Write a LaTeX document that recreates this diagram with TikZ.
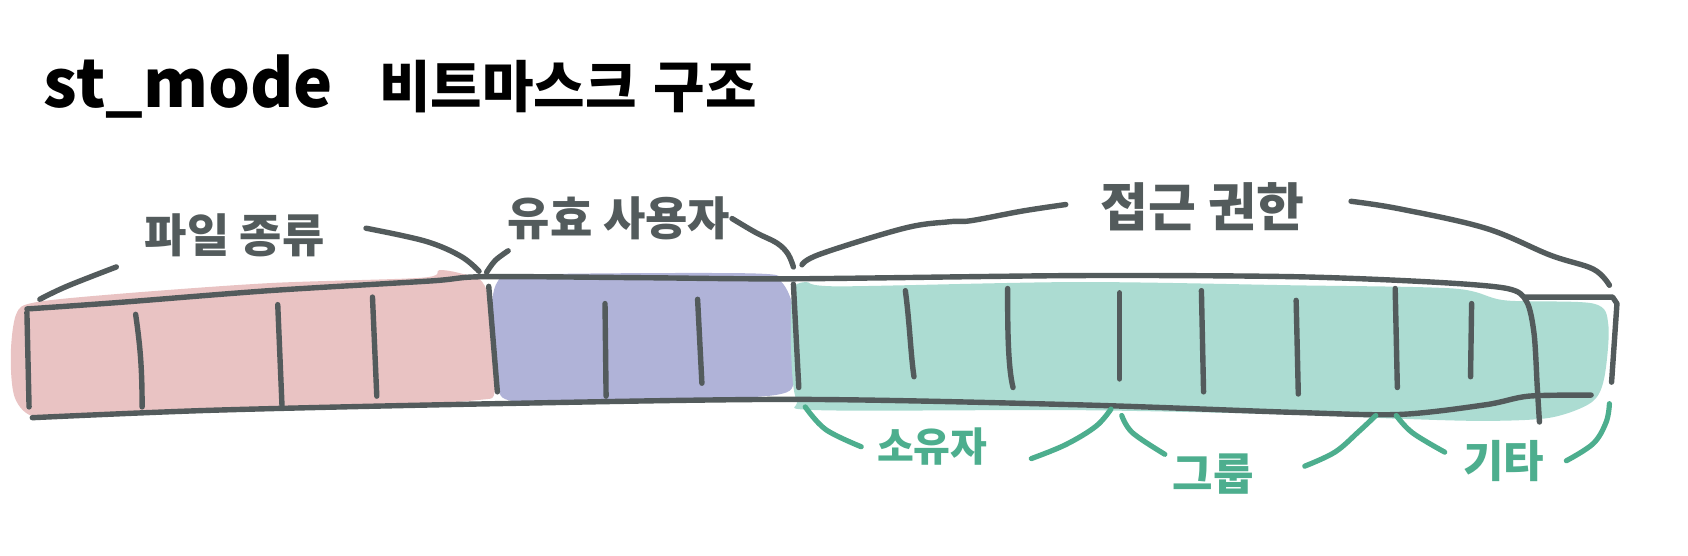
\documentclass[tikz,border=0pt]{standalone}
\usepackage{fontspec}
\newfontfamily\kr{Noto Sans CJK KR}
\definecolor{inkc}{HTML}{535B5C}
\definecolor{pinkf}{HTML}{E9C3C3}
\definecolor{bluef}{HTML}{B0B3D8}
\definecolor{tealf}{HTML}{ACDCD2}
\definecolor{tealt}{HTML}{4DAE8E}
\tikzset{
  ink/.style={draw=inkc, line width=2.7pt, line cap=round, line join=round},
  tink/.style={draw=tealt, line width=2.6pt, line cap=round, line join=round},
  lbl/.style={font=\kr\bfseries\fontsize{23}{23}\selectfont, text=inkc, inner sep=0pt},
  tlbl/.style={font=\kr\bfseries\fontsize{20}{20}\selectfont, text=tealt, inner sep=0pt},
  ttl/.style={font=\kr\bfseries\fontsize{28}{28}\selectfont, text=black, inner sep=0pt, anchor=base},
}
\begin{document}
\begin{tikzpicture}[x=0.5383pt,y=-0.5383pt]
\useasboundingbox (0,0) rectangle (1568,516);
\fill[white] (0,0) rectangle (1568,516);
% fills
\fill[pinkf] plot[smooth cycle, tension=0.5] coordinates {(15,292) (32,281) (110,273) (250,263) (392,258) (408,251) (428,254) (448,262) (462,300) (460,362) (440,372) (300,380) (100,386) (35,388) (14,370) (10,330)};
\fill[bluef] plot[smooth cycle, tension=0.5] coordinates {(462,262) (490,255) (700,254) (726,262) (738,292) (738,350) (720,367) (600,372) (480,373) (462,356) (456,300)};
\fill[tealf] plot[smooth cycle, tension=0.5] coordinates {(736,272) (748,262) (780,266) (1000,262) (1200,265) (1350,268) (1398,279) (1480,282) (1494,302) (1490,352) (1478,374) (1440,388) (1380,391) (1300,389) (1200,385) (1000,381) (760,381) (740,372) (735,330)};
% title
\node[ttl, font=\kr\bfseries\fontsize{33}{33}\selectfont] (t1) at (175,100) {st\_mode};
\node[ttl] (t2) at (472,100) {비트마스크};
\node[ttl] (t3) at (655,100) {구조};
% bar outline
\draw[ink] plot[smooth, tension=0.5] coordinates {(25,287) (110,281) (250,270) (400,261) (450,257) (600,258) (737,259) (1000,256) (1200,257) (1330,262) (1400,268) (1418,280) (1425,310) (1428,360) (1430,392)};
\draw[ink] (1416,276) -- (1498,276) -- (1502,282) -- (1497,355);
\draw[ink] plot[smooth, tension=0.5] coordinates {(30,388) (200,381) (460,375) (740,371) (1000,376) (1200,383) (1300,385) (1380,376) (1420,368) (1478,367)};
% dividers
\draw[ink] (25,290) -- (27,378);
\draw[ink] (126,292) .. controls (130,320) and (132,340) .. (132,378);
\draw[ink] (258,283) -- (262,378);
\draw[ink] (346,276) -- (350,368);
\draw[ink] (454,266) -- (462,364);
\draw[ink] (562,282) -- (563,368);
\draw[ink] (648,278) -- (652,356);
\draw[ink] (737,264) -- (742,360);
\draw[ink] (841,270) .. controls (845,300) and (846,330) .. (849,350);
\draw[ink] (936,268) .. controls (936,300) and (936,340) .. (941,360);
\draw[ink] (1040,272) -- (1040,352);
\draw[ink] (1116,270) -- (1118,364);
\draw[ink] (1204,279) -- (1206,366);
\draw[ink] (1296,268) -- (1298,360);
\draw[ink] (1367,282) -- (1366,350);
% top labels and braces
\node[lbl] (ft) at (218,219) {파일 종류};
\node[lbl] (eu) at (575,203) {유효 사용자};
\node[lbl, font=\kr\bfseries\fontsize{26}{26}\selectfont] (ap) at (1117,192) {접근 권한};
\draw[ink] plot[smooth, tension=0.6] coordinates {(37,278) (62,266) (108,248)};
\draw[ink] plot[smooth, tension=0.6] coordinates {(340,212) (395,224) (428,238) (445,252)};
\draw[ink] plot[smooth, tension=0.6] coordinates {(452,253) (460,242) (472,233)};
\draw[ink] plot[smooth, tension=0.6] coordinates {(680,203) (702,216) (722,226) (732,236) (737,248)};
\draw[ink] plot[smooth, tension=0.6] coordinates {(745,246) (762,236) (840,212) (882,206) (902,205) (950,196) (990,190)};
\draw[ink] plot[smooth, tension=0.6] coordinates {(1255,187) (1300,194) (1380,212) (1440,237) (1480,250) (1495,265)};
% bottom labels and braces
\node[tlbl] (ow) at (866,415) {소유자};
\node[tlbl, font=\kr\bfseries\fontsize{22}{22}\selectfont] (gr) at (1127,440) {그룹};
\node[tlbl, font=\kr\bfseries\fontsize{22}{22}\selectfont] (ot) at (1397,428) {기타};
\draw[tink] plot[smooth, tension=0.6] coordinates {(748,378) (767,399) (800,415)};
\draw[tink] plot[smooth, tension=0.6] coordinates {(958,426) (990,413) (1018,396) (1032,380)};
\draw[tink] plot[smooth, tension=0.6] coordinates {(1042,386) (1052,402) (1082,422)};
\draw[tink] plot[smooth, tension=0.6] coordinates {(1212,433) (1240,420) (1262,401) (1278,386)};
\draw[tink] plot[smooth, tension=0.6] coordinates {(1297,386) (1312,402) (1342,420)};
\draw[tink] plot[smooth, tension=0.6] coordinates {(1455,428) (1480,412) (1492,392) (1495,375)};
\end{tikzpicture}
\end{document}
